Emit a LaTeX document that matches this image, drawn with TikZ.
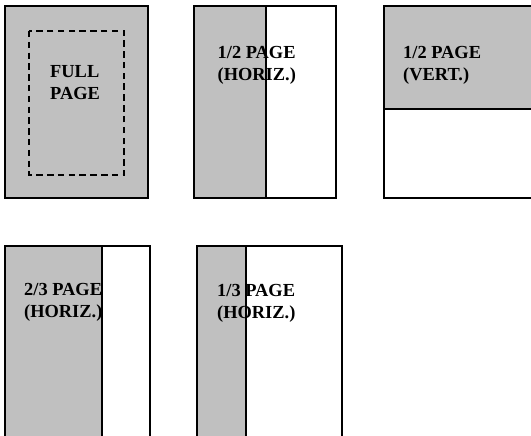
\documentclass[tikz,border=0pt]{standalone}
\usepackage{fontspec}
\setmainfont{Liberation Serif}
\usetikzlibrary{positioning}
\definecolor{adgray}{RGB}{192, 192, 192}

\begin{document}
\begin{tikzpicture}[x=1pt, y=-1pt,
    page/.style={draw=black, line width=2pt},
    adfill/.style={fill=adgray},
    trim/.style={draw=black, line width=2pt, dash pattern=on 6.5pt off 4.3pt},
    adlabel/.style={anchor=base west, inner sep=0pt, align=left, font=\fontsize{18.4}{21.7}\selectfont\bfseries}
]
    \clip (0, 0) rectangle (531, 436);
    \fill[white] (0, 0) rectangle (531, 436);

    % full page
    \fill[adfill] (5, 6) rectangle (148, 198);
    \draw[page] (5, 6) rectangle (148, 198);
    \draw[trim] (29, 31) rectangle (124, 175);
    \node[adlabel] (full) at (50, 99.7) {FULL\\PAGE};

    % half page, horizontal
    \fill[adfill] (194, 6) rectangle (265.5, 198);
    \draw[page] (194, 6) rectangle (336, 198);
    \draw[page] (265.5, 6) -- (265.5, 198);
    \node[adlabel] (halfh) at (217.5, 80.2) {1/2 PAGE\\(HORIZ.)};

    % half page, vertical
    \fill[adfill] (384, 6) rectangle (545, 109);
    \draw[page] (384, 6) rectangle (545, 198);
    \draw[page] (384, 109) -- (545, 109);
    \node[adlabel] (halfv) at (403, 80.2) {1/2 PAGE\\(VERT.)};

    % two thirds page
    \fill[adfill] (5, 246) rectangle (102, 450);
    \draw[page] (5, 246) rectangle (150, 450);
    \draw[page] (102, 246) -- (102, 450);
    \node[adlabel] (twothirds) at (24, 317.2) {2/3 PAGE\\(HORIZ.)};

    % one third page
    \fill[adfill] (197, 246) rectangle (246, 450);
    \draw[page] (197, 246) rectangle (341.5, 450);
    \draw[page] (246, 246) -- (246, 450);
    \node[adlabel] (onethird) at (217, 318.2) {1/3 PAGE\\(HORIZ.)};
\end{tikzpicture}
\end{document}
